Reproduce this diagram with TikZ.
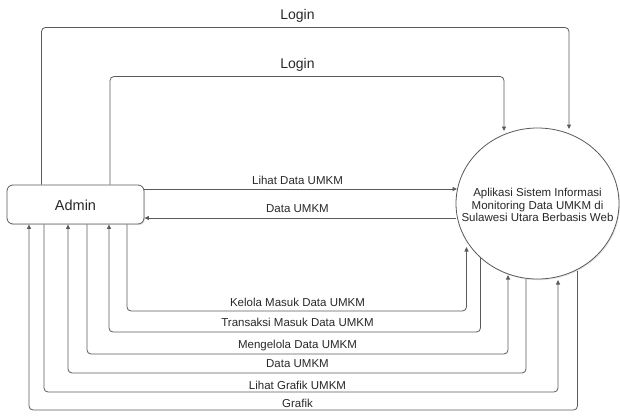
\documentclass[tikz,border=0pt]{standalone}
\usepackage{fontspec}
\setmainfont{Liberation Sans}
\usetikzlibrary{arrows.meta,shapes.geometric,shadows}
\definecolor{linec}{RGB}{90,90,90}
\definecolor{txtc}{RGB}{40,40,40}
\begin{document}
\begin{tikzpicture}[x=1pt,y=-1pt,
  flow/.style={draw=linec, line width=0.8pt, rounded corners=4pt,
    -{Triangle[length=4.5pt,width=4pt]}},
  plain/.style={draw=linec, line width=0.8pt, rounded corners=4pt},
  lbl/.style={anchor=base, inner sep=0pt, text=txtc,
    font=\fontsize{11.5}{12.2}\selectfont},
  biglbl/.style={anchor=base, inner sep=0pt, text=txtc,
    font=\fontsize{14}{16}\selectfont},
  boxnode/.style={draw=linec, line width=0.8pt, rounded corners=6pt, fill=white,
    minimum width=137pt, minimum height=39pt, inner sep=0pt,
    drop shadow={opacity=0.2, shadow xshift=1pt, shadow yshift=-1.2pt}},
  ellnode/.style={ellipse, draw=linec, line width=0.8pt, fill=white,
    minimum width=163pt, minimum height=151pt, inner sep=0pt,
    drop shadow={opacity=0.2, shadow xshift=1pt, shadow yshift=-1.2pt}}
]
\useasboundingbox (0,0) rectangle (620,415);

% nodes
\node[boxnode] (admin) at (75.5,204.5) {};
\node[biglbl, font=\fontsize{14.5}{16}\selectfont] (admintxt) at (75.5,210) {Admin};
\node[ellnode] (sys) at (537.5,203.5) {};
\node[lbl, anchor=center, align=center] (systxt) at (537.5,205)
  {Aplikasi Sistem Informasi\\Monitoring Data UMKM di\\Sulawesi Utara Berbasis Web};

% coordinates
\coordinate (lo1) at (41.5,27.5);
\coordinate (lo2) at (569,129);
\coordinate (li1) at (110,76.5);
\coordinate (li2) at (504,131);
\coordinate (ld) at (457,189);
\coordinate (du) at (456,218);
\coordinate (kA) at (127,311);
\coordinate (kB) at (466.5,247);
\coordinate (tA) at (109,332);
\coordinate (tB) at (480.5,257);
\coordinate (mA) at (87,354);
\coordinate (mB) at (508,275);
\coordinate (dA) at (68,373);
\coordinate (dB) at (526,279);
\coordinate (gA) at (44,392);
\coordinate (gB) at (558,280);
\coordinate (fA) at (29,410);
\coordinate (fB) at (577.5,271);

% Login connectors
\draw[flow] (admin.north -| lo1) -- (lo1) -- (lo1 -| lo2) -- (lo2);
\draw[flow] (admin.north -| li1) -- (li1) -- (li1 -| li2) -- (li2);
\node[biglbl] (l1) at (297.5,19) {Login};
\node[biglbl] (l2) at (297.5,68.5) {Login};

% middle connectors
\draw[flow] (admin.east |- ld) -- (ld);
\draw[flow] (du) -- (admin.east |- du);
\node[lbl] (l3) at (297.5,184) {Lihat Data UMKM};
\node[lbl] (l4) at (297.5,212.7) {Data UMKM};

% bottom connectors
\draw[flow] (admin.south -| kA) -- (kA) -- (kA -| kB) -- (kB);
\draw[flow] (tB) -- (tB |- tA) -- (tA) -- (admin.south -| tA);
\draw[flow] (admin.south -| mA) -- (mA) -- (mA -| mB) -- (mB);
\draw[flow] (dB) -- (dB |- dA) -- (dA) -- (admin.south -| dA);
\draw[flow] (admin.south -| gA) -- (gA) -- (gA -| gB) -- (gB);
\draw[flow] (fB) -- (fB |- fA) -- (fA) -- (admin.south -| fA);

\node[lbl] (l5) at (297.5,306) {Kelola Masuk Data UMKM};
\node[lbl] (l6) at (297.5,326.7) {Transaksi Masuk Data UMKM};
\node[lbl] (l7) at (297.5,348) {Mengelola Data UMKM};
\node[lbl] (l8) at (297.5,367.7) {Data UMKM};
\node[lbl] (l9) at (297.5,389) {Lihat Grafik UMKM};
\node[lbl] (l10) at (297.5,407.7) {Grafik};
\end{tikzpicture}
\end{document}
